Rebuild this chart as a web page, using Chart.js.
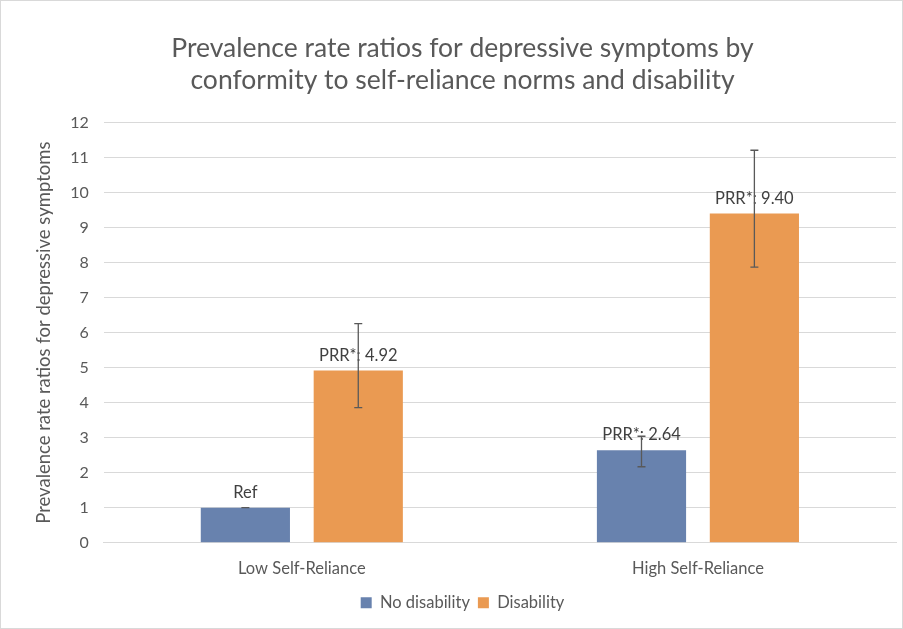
<!DOCTYPE html>
<html>
<head>
<meta charset="utf-8">
<script src="https://cdn.jsdelivr.net/npm/chart.js@4"></script>
<style>
  html, body { margin: 0; padding: 0; background: #fff; }
  #wrap { position: relative; width: 901px; height: 627px; border: 1px solid #d9d9d9; }
</style>
</head>
<body>
<div id="wrap"><canvas id="chart"></canvas></div>
<script>
const categories = ["Low Self-Reliance", "High Self-Reliance"];
const noDisability = [1, 2.64];
const disability = [4.92, 9.40];
const noDisabilityLow = [1, 2.17];
const noDisabilityHigh = [1, 3.04];
const disabilityLow = [3.86, 7.87];
const disabilityHigh = [6.26, 11.21];
const noDisabilityLabels = ["Ref", "PRR*: 2.64"];
const disabilityLabels = ["PRR*: 4.92", "PRR*: 9.40"];

const fontFam = "Lato, 'Open Sans', sans-serif";

// error bars + value labels
const extras = {
  id: 'extras',
  afterDatasetsDraw(chart) {
    const ctx = chart.ctx;
    const y = chart.scales.y;
    const lows = [noDisabilityLow, disabilityLow];
    const highs = [noDisabilityHigh, disabilityHigh];
    const labels = [noDisabilityLabels, disabilityLabels];
    chart.data.datasets.forEach((ds, i) => {
      const meta = chart.getDatasetMeta(i);
      meta.data.forEach((bar, j) => {
        const x = bar.x;
        const yl = y.getPixelForValue(lows[i][j]);
        const yh = y.getPixelForValue(highs[i][j]);
        // label
        ctx.save();
        ctx.fillStyle = '#404040';
        ctx.font = "16.5px " + fontFam;
        ctx.textAlign = 'center';
        ctx.textBaseline = 'bottom';
        ctx.fillText(labels[i][j], x, bar.y - 7);
        ctx.restore();
        // error bar
        ctx.save();
        ctx.strokeStyle = '#595959';
        ctx.lineWidth = 1.3;
        ctx.beginPath();
        ctx.moveTo(x, yl); ctx.lineTo(x, yh);
        ctx.moveTo(x - 4, yl); ctx.lineTo(x + 4, yl);
        ctx.moveTo(x - 4, yh); ctx.lineTo(x + 4, yh);
        ctx.stroke();
        ctx.restore();
      });
    });
  }
};

new Chart(document.getElementById('chart'), {
  type: 'bar',
  data: {
    labels: categories,
    datasets: [{
      label: "No disability",
      data: noDisability,
      backgroundColor: '#6882ae',
      barPercentage: 0.79,
      categoryPercentage: 0.57
    }, {
      label: "Disability",
      data: disability,
      backgroundColor: '#ea9a52',
      barPercentage: 0.79,
      categoryPercentage: 0.57
    }]
  },
  options: {
    responsive: true,
    maintainAspectRatio: false,
    animation: false,
    layout: { padding: { left: 28, right: 6, top: 32, bottom: 7 } },
    plugins: {
      title: {
        display: true,
        text: ["Prevalence rate ratios for depressive symptoms by", "conformity to self-reliance norms and disability"],
        color: '#595959',
        font: { family: fontFam, size: 26.5, weight: 'normal' },
        lineHeight: 1.25,
        padding: { top: 0, bottom: 26 }
      },
      legend: {
        position: 'bottom',
        labels: {
          color: '#595959',
          font: { family: fontFam, size: 16.5 },
          boxWidth: 11,
          boxHeight: 11,
          padding: 8
        }
      },
      tooltip: { enabled: false }
    },
    scales: {
      x: {
        grid: { display: false },
        border: { color: '#d9d9d9' },
        ticks: { color: '#595959', font: { family: fontFam, size: 16.5 }, padding: 8 }
      },
      y: {
        min: 0, max: 12,
        ticks: { stepSize: 1, color: '#595959', font: { family: fontFam, size: 16 }, padding: 15 },
        grid: { color: '#d9d9d9', drawTicks: false },
        border: { display: false },
        title: {
          display: true,
          text: "Prevalence rate ratios for depressive symptoms",
          color: '#595959',
          font: { family: fontFam, size: 18.5 },
          padding: { bottom: 0 }
        }
      }
    }
  },
  plugins: [extras]
});
</script>
</body>
</html>
